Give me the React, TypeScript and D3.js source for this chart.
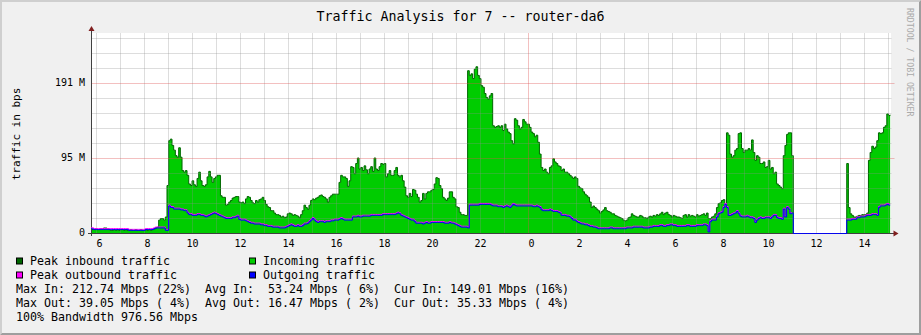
import React from 'react';
import * as d3 from 'd3';

const W = 921;
const H = 335;

const title = 'Traffic Analysis for 7 -- router-da6';
const yAxisTitle = 'traffic in bps';
const watermark = 'RRDTOOL / TOBI OETIKER';

// time sampling: first sample at 05:40 (day 1), 97 samples every 6.75 h
const firstSampleHour = 5 + 40 / 60;
const hoursPerBlock = 6.75;
const samplesPerBlock = 97;

// Incoming traffic (Mbps)
const inMorning = [
  6, 6, 5, 5, 6, 5, 5, 6, 6, 7,
  7, 6, 5, 4, 4, 5, 4, 5, 4, 5,
  5, 4, 5, 4, 4, 5, 4, 4, 5, 4,
  4, 5, 4, 4, 5, 4, 5, 4, 5, 6,
  7, 8, 17, 19, 19, 17, 21, 61, 118, 120,
  112, 106, 99, 97, 109, 97, 80, 78, 80, 74,
  63, 61, 67, 62, 60, 70, 78, 67, 61, 60,
  62, 72, 79, 72, 65, 70, 72, 74, 74, 48,
  46, 46, 36, 37, 40, 42, 45, 46, 47, 47,
  40, 39, 40, 38, 44, 47, 46,
];
const inAfternoon = [
  42, 39, 38, 42, 40, 43, 44, 46, 42, 37,
  34, 33, 29, 29, 26, 24, 24, 23, 21, 22,
  20, 21, 25, 26, 25, 23, 24, 23, 22, 20,
  24, 29, 36, 33, 31, 36, 42, 44, 43, 45,
  46, 48, 49, 47, 46, 44, 40, 46, 48, 50,
  50, 50, 50, 65, 74, 72, 72, 70, 60, 67,
  85, 84, 76, 89, 96, 82, 84, 80, 86, 81,
  76, 82, 85, 79, 96, 82, 80, 85, 89, 88,
  89, 72, 76, 80, 74, 74, 80, 84, 74, 72,
  74, 67, 59, 48, 46, 51, 47,
];
const inEvening = [
  56, 55, 50, 46, 40, 42, 51, 44, 51, 53,
  53, 55, 56, 63, 71, 70, 61, 57, 46, 44,
  42, 45, 53, 53, 46, 44, 34, 33, 27, 24,
  24, 23, 23, 207, 201, 203, 197, 209, 212, 201,
  197, 188, 186, 178, 173, 171, 175, 178, 137, 135,
  136, 137, 135, 137, 131, 139, 133, 129, 127, 118,
  114, 146, 144, 137, 133, 135, 145, 142, 139, 139,
  135, 129, 127, 123, 125, 116, 101, 84, 80, 82,
  78, 76, 84, 86, 95, 91, 89, 86, 85, 80,
  82, 78, 78, 76, 74, 72, 70,
];
const inNight = [
  72, 70, 60, 58, 57, 53, 50, 48, 46, 40,
  33, 35, 33, 31, 29, 26, 28, 30, 33, 29,
  28, 27, 25, 25, 23, 22, 21, 20, 19, 17,
  16, 17, 20, 21, 25, 23, 22, 21, 21, 23,
  22, 20, 20, 19, 21, 22, 21, 23, 22, 24,
  23, 25, 27, 24, 26, 27, 24, 23, 21, 23,
  22, 21, 21, 20, 19, 23, 24, 21, 24, 22,
  23, 22, 21, 24, 22, 23, 24, 25, 23, 26,
  19, 19, 21, 22, 25, 33, 38, 39, 42, 43,
  38, 128, 125, 101, 97, 99, 106,
];
const inToday = [
  108, 127, 128, 108, 103, 106, 106, 108, 106, 119,
  103, 93, 99, 97, 89, 89, 91, 84, 85, 93,
  82, 84, 76, 78, 63, 61, 59, 57, 99, 112,
  126, 128, 128, 99, 0, 0, 0, 0, 0, 0,
  0, 0, 0, 0, 0, 0, 0, 0, 0, 0,
  0, 0, 0, 0, 0, 0, 0, 0, 0, 0,
  0, 0, 0, 0, 0, 0, 89, 33, 25, 23,
  21, 21, 22, 23, 23, 24, 24, 24, 26, 93,
  103, 111, 108, 110, 118, 128, 127, 128, 135, 137,
  152, 150, 151,
];

// Outgoing traffic (Mbps)
const outMorning = [
  6, 6, 6, 5, 5, 5, 5, 5, 5, 5,
  5, 5, 5, 5, 5, 5, 5, 5, 5, 5,
  5, 5, 5, 5, 4, 4, 4, 4, 4, 4,
  4, 4, 4, 4, 5, 5, 5, 5, 5, 6,
  7, 7, 7, 7, 7, 7, 4, 4, 35, 33,
  33, 31, 31, 31, 31, 30, 30, 29, 29, 26,
  24, 24, 23, 23, 23, 24, 24, 23, 23, 22,
  21, 22, 23, 24, 25, 26, 25, 24, 23, 22,
  21, 20, 19, 19, 19, 19, 20, 20, 21, 22,
  18, 17, 17, 17, 16, 15, 14,
];
const outAfternoon = [
  13, 13, 12, 12, 12, 12, 11, 11, 10, 10,
  9, 9, 9, 8, 8, 8, 8, 7, 7, 7,
  7, 8, 9, 10, 11, 10, 9, 9, 10, 9,
  9, 10, 12, 12, 13, 15, 17, 19, 17, 15,
  14, 15, 15, 15, 14, 15, 15, 15, 16, 16,
  17, 17, 17, 18, 19, 18, 17, 17, 17, 17,
  17, 21, 21, 21, 22, 21, 21, 22, 22, 22,
  22, 22, 23, 23, 23, 23, 23, 23, 23, 24,
  24, 24, 24, 24, 24, 24, 24, 25, 26, 25,
  23, 22, 21, 20, 19, 18, 17,
];
const outEvening = [
  17, 15, 13, 13, 13, 13, 12, 13, 14, 13,
  13, 14, 14, 14, 14, 14, 14, 14, 14, 13,
  13, 13, 14, 13, 13, 12, 11, 10, 9, 8,
  8, 8, 8, 7, 36, 36, 36, 36, 36, 36,
  37, 37, 37, 37, 37, 37, 37, 36, 35, 35,
  35, 34, 34, 34, 33, 34, 35, 34, 33, 35,
  37, 36, 35, 35, 35, 35, 35, 35, 35, 35,
  35, 35, 34, 34, 35, 34, 33, 30, 29, 29,
  29, 29, 30, 29, 28, 28, 28, 27, 26, 23,
  23, 23, 22, 22, 21, 19, 17,
];
const outNight = [
  17, 15, 14, 13, 12, 12, 11, 11, 10, 9,
  9, 8, 8, 7, 6, 6, 6, 6, 6, 6,
  6, 7, 7, 6, 6, 6, 6, 6, 6, 6,
  6, 7, 7, 7, 7, 8, 8, 8, 8, 8,
  8, 7, 7, 7, 7, 8, 8, 9, 9, 9,
  9, 10, 10, 9, 9, 10, 10, 11, 11, 10,
  10, 9, 9, 9, 9, 9, 9, 10, 10, 9,
  9, 9, 9, 10, 10, 10, 10, 11, 11, 10,
  2, 15, 17, 17, 17, 21, 25, 26, 27, 33,
  37, 33, 23, 23, 24, 25, 26,
];
const outToday = [
  28, 25, 22, 21, 21, 21, 22, 21, 20, 20,
  19, 14, 17, 19, 20, 19, 19, 20, 20, 20,
  19, 21, 23, 23, 20, 19, 19, 18, 31, 21,
  33, 31, 25, 26, 0, 0, 0, 0, 0, 0,
  0, 0, 0, 0, 0, 0, 0, 0, 0, 0,
  0, 0, 0, 0, 0, 0, 0, 0, 0, 0,
  0, 0, 0, 0, 0, 0, 17, 17, 17, 18,
  18, 18, 20, 20, 21, 21, 21, 22, 23, 23,
  23, 24, 24, 24, 23, 33, 35, 35, 35, 36,
  37, 36, 36,
];

const incoming = [...inMorning, ...inAfternoon, ...inEvening, ...inNight, ...inToday];
const outgoing = [...outMorning, ...outAfternoon, ...outEvening, ...outNight, ...outToday];

// axes
const yTickValues = [0, 95.367, 190.735];
const yTickLabels = ['0', '95 M', '191 M'];
const yMinorStep = 19.0735;
const yMax = 254.31;
const viewStartHour = 5 + 47.5 / 60;
const viewHours = 800 / 24;
const xTickHours = [6, 8, 10, 12, 14, 16, 18, 20, 22, 24, 26, 28, 30, 32, 34, 36, 38];
const xTickLabels = [' 6', ' 8', '10', '12', '14', '16', '18', '20', '22', ' 0', ' 2', ' 4', ' 6', ' 8', '10', '12', '14'];
const majorHours = [24];

const legendItems = [
  { label: 'Peak inbound traffic', color: '#006600', col: 0, row: 0 },
  { label: 'Incoming traffic', color: '#00cc00', col: 1, row: 0 },
  { label: 'Peak outbound traffic', color: '#ff00ff', col: 0, row: 1 },
  { label: 'Outgoing traffic', color: '#0000ff', col: 1, row: 1 },
];
const statLines = [
  'Max In: 212.74 Mbps (22%)  Avg In:  53.24 Mbps ( 6%)  Cur In: 149.01 Mbps (16%)',
  'Max Out: 39.05 Mbps ( 4%)  Avg Out: 16.47 Mbps ( 2%)  Cur Out: 35.33 Mbps ( 4%)',
  '100% Bandwidth 976.56 Mbps',
];

const FONT = "'DejaVu Sans Mono', monospace";

export default function App() {
  const left = 91.5, right = 891.5, top = 33.5, bottom = 233.5;
  const x = d3.scaleLinear().domain([viewStartHour, viewStartHour + viewHours]).range([left, right]);
  const y = d3.scaleLinear().domain([0, yMax]).range([bottom, top]);

  const pts = incoming.map((v, i) => ({
    h: firstSampleHour + (i * hoursPerBlock) / samplesPerBlock,
    inV: v,
    outV: outgoing[i],
  }));

  const area = d3.area<any>().x(d => x(d.h)).y0(y(0)).y1(d => y(d.inV)).curve(d3.curveStepAfter);
  const inLine = d3.line<any>().x(d => x(d.h)).y(d => y(d.inV)).curve(d3.curveStepAfter);
  const outLine = d3.line<any>().x(d => x(d.h)).y(d => y(d.outV)).curve(d3.curveStepAfter);
  const peakOutLine = d3.line<any>().defined(d => d.outV > 0).x(d => x(d.h)).y(d => y(d.outV)).curve(d3.curveStepAfter);

  const hourLines = d3.range(6, 40).filter(h => !majorHours.includes(h));
  const minorY = d3.range(1, 14).map(k => k * yMinorStep).filter(v => !yTickValues.some(t => Math.abs(t - v) < 1));
  const snap = (v: number) => Math.round(y(v) - 0.5) + 0.5;

  return (
    <svg width={W} height={H} style={{ position: 'absolute', left: 0, top: 0, display: 'block' }}>
      <defs>
        <clipPath id="plot">
          <rect x={91} y={33} width={800} height={201} />
        </clipPath>
      </defs>
      <rect x={0} y={0} width={W} height={H} fill="#f0f0f0" />
      <polygon points={`0,0 ${W},0 ${W - 2},2 2,2 2,${H - 2} 0,${H}`} fill="#cfcfcf" />
      <polygon points={`${W},0 ${W},${H} 0,${H} 2,${H - 2} ${W - 2},${H - 2} ${W - 2},2`} fill="#9e9e9e" />
      <rect x={91} y={33} width={800} height={200} fill="#ffffff" />

      <g clipPath="url(#plot)">
        <path d={area(pts) || ''} fill="#00cc00" />
        <path d={inLine(pts) || ''} fill="none" stroke="#006600" strokeWidth={1} />
      </g>

      {/* grid on top, semi-transparent like rrdtool */}
      <g>
        {hourLines.map(h => (
          <line key={'vx' + h} x1={x(h)} x2={x(h)} y1={top - 0.5} y2={bottom} stroke="rgba(143,143,143,0.3)" />
        ))}
        {minorY.map(v => (
          <line key={'hy' + v} x1={left} x2={right} y1={snap(v)} y2={snap(v)} stroke="rgba(143,143,143,0.3)" />
        ))}
        {majorHours.map(h => (
          <line key={'mx' + h} x1={x(h)} x2={x(h)} y1={top - 0.5} y2={bottom} stroke="rgba(222,79,79,0.36)" />
        ))}
        {yTickValues.slice(1).map(v => (
          <line key={'my' + v} x1={left} x2={right + 3} y1={snap(v)} y2={snap(v)} stroke="rgba(222,79,79,0.36)" />
        ))}
      </g>

      {/* axes */}
      <line x1={88} x2={894} y1={bottom} y2={bottom} stroke="#404040" />
      <line x1={left} x2={left} y1={236} y2={30} stroke="#404040" />
      <polygon points={`${left},26 ${left - 3},31 ${left + 3},31`} fill="#801f1f" />
      <polygon points={`898.5,${bottom} 893.5,${bottom - 3} 893.5,${bottom + 3}`} fill="#801f1f" />

      {/* outbound lines drawn last */}
      <g clipPath="url(#plot)">
        <path d={peakOutLine(pts) || ''} fill="none" stroke="#ff00ff" strokeWidth={1} transform="translate(0,-1)" />
        <path d={outLine(pts) || ''} fill="none" stroke="#0000ff" strokeWidth={1} />
      </g>

      {/* y tick labels */}
      {yTickValues.map((v, i) => (
        <text key={'yl' + i} x={85} y={snap(v) + 2.5} textAnchor="end" fontFamily={FONT} fontSize={10} fill="#000">
          {yTickLabels[i]}
        </text>
      ))}
      {/* x tick labels */}
      {xTickHours.map((h, i) => (
        <text key={'xl' + i} x={x(h)} y={247} textAnchor="middle" fontFamily={FONT} fontSize={10} fill="#000" style={{ whiteSpace: 'pre' }}>
          {xTickLabels[i]}
        </text>
      ))}

      {/* titles */}
      <text x={460.5} y={21} textAnchor="middle" fontFamily={FONT} fontSize={13.3} fill="#000">{title}</text>
      <text transform="translate(20,134) rotate(-90)" textAnchor="middle" fontFamily={FONT} fontSize={11} fill="#000">{yAxisTitle}</text>
      <text transform="translate(907,8) rotate(90)" textAnchor="start" fontFamily={FONT} fontSize={8.2} fill="#aaaaaa">{watermark}</text>

      {/* legend */}
      {legendItems.map((it, i) => {
        const bx = it.col === 0 ? 16.5 : 249.5;
        const tx = it.col === 0 ? 30 : 263;
        const by = 265 + it.row * 14;
        return (
          <g key={'lg' + i}>
            <rect x={bx} y={by - 7} width={6} height={6} fill={it.color} stroke="#000" strokeWidth={1} />
            <text x={tx} y={by} fontFamily={FONT} fontSize={11.63} fill="#000" style={{ whiteSpace: 'pre' }}>{it.label}</text>
          </g>
        );
      })}
      {statLines.map((s, i) => (
        <text key={'st' + i} x={16} y={293 + i * 14} fontFamily={FONT} fontSize={11.63} fill="#000" style={{ whiteSpace: 'pre' }}>{s}</text>
      ))}
    </svg>
  );
}
